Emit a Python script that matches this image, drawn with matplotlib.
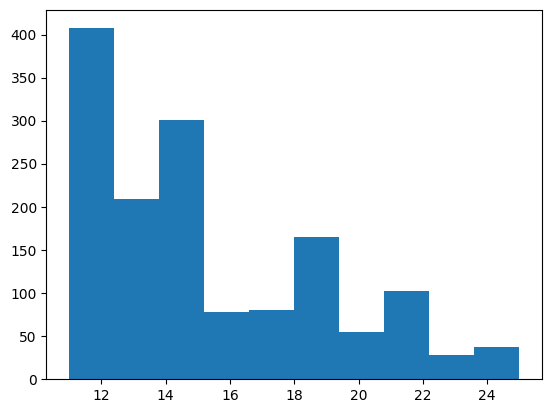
import matplotlib
matplotlib.use("Agg")
import matplotlib.pyplot as plt
import numpy as np

bin_edges = np.linspace(11, 25, 11)
counts = [408, 209, 301, 78, 81, 165, 55, 103, 28, 38]

fig = plt.figure(figsize=(5.52, 4.13), dpi=100)
ax = fig.add_axes([0.0842, 0.0816, 0.8975, 0.8935])
centers = (bin_edges[:-1] + bin_edges[1:]) / 2
ax.hist(centers, bins=bin_edges, weights=counts, color="#1f77b4")
fig.savefig("out.png", dpi=100)
